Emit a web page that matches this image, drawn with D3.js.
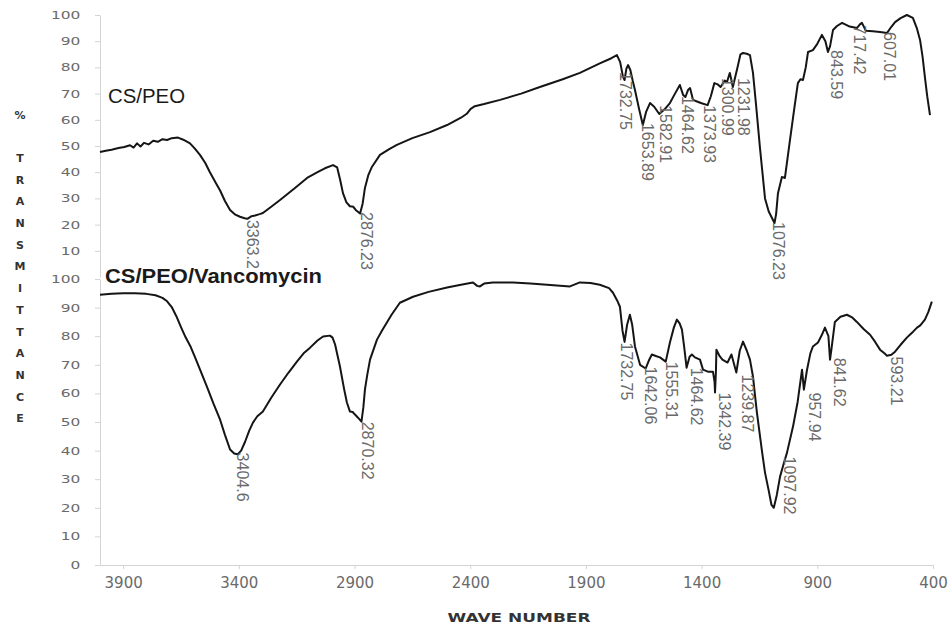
<!DOCTYPE html>
<html>
<head>
<meta charset="utf-8">
<script src="https://cdn.jsdelivr.net/npm/d3@7"></script>
<style>
  body { margin: 0; background: #fff; }
  svg { display: block; }
  .eje path, .eje line { stroke: #d4d4d4; }
  .eje text { fill: #6a6a6a; font-family: "DejaVu Sans", sans-serif; }
  .pico { fill: #6a6a6a; font-family: "Liberation Sans Narrow", "Arial Narrow", sans-serif; font-size: 16px; }
</style>
</head>
<body>
<svg id="graph"></svg>
<script>
// eje X (numero de onda) y ejes Y de cada espectro
var ticksX = [3900, 3400, 2900, 2400, 1900, 1400, 900, 400];
var ticksArriba = [10, 20, 30, 40, 50, 60, 70, 80, 90, 100];
var ticksAbajo = [0, 10, 20, 30, 40, 50, 60, 70, 80, 90, 100];

var nombres = ["CS/PEO", "CS/PEO/Vancomycin"];
var tituloY = ["%", "", "T", "R", "A", "N", "S", "M", "I", "T", "T", "A", "N", "C", "E"];

var csPeo = [
  [4000,47.7],[3975,48.2],[3950,48.6],[3920,49.2],[3895,49.6],[3870,50.3],[3855,49.4],[3840,51],[3825,49.8],
  [3810,51.2],[3790,50.6],[3770,52],[3750,51.6],[3730,52.6],[3710,52.3],[3690,53],[3663,53.2],[3640,52.4],
  [3611,51],[3590,49],[3568,46.6],[3545,43.5],[3525,40],[3500,36],[3481,33],[3460,29],[3438,25.6],[3415,23.8],
  [3395,23],[3375,22.4],[3363,22.2],[3345,23.2],[3330,23.5],[3310,24],[3296,24.4],[3260,26.8],[3222,29.4],
  [3160,33.8],[3105,37.8],[3060,40],[3028,41.5],[2993,42.7],[2975,41.8],[2962,37],[2950,32],[2935,28.5],
  [2920,27],[2905,26.8],[2895,25.6],[2876,24.2],[2865,28],[2855,34],[2840,39],[2825,42],[2790,46.6],
  [2750,48.8],[2717,50.4],[2650,53],[2574,55.3],[2500,58],[2440,60.8],[2415,62.3],[2398,64.2],[2380,65.2],
  [2340,66],[2271,67.6],[2180,70],[2099,72.5],[2000,75.5],[1926,77.9],[1840,81.5],[1790,83.5],[1766,84.7],
  [1752,82],[1740,76.5],[1733,75.2],[1725,79.5],[1718,80.9],[1708,79],[1698,75],[1688,71.4],[1670,64],
  [1654,58],[1640,63],[1623,66.4],[1605,65],[1583,62.2],[1560,64],[1537,66.4],[1515,70],[1494,73.3],
  [1480,69.5],[1470,68.7],[1458,71.5],[1450,72.1],[1437,67.6],[1420,67],[1400,66.3],[1374,65.6],[1360,69],
  [1345,74],[1330,73.5],[1318,72.5],[1300,75],[1290,74.5],[1278,77.9],[1265,72.5],[1245,80],[1232,85],
  [1221,85.5],[1205,85.2],[1191,84.7],[1178,77.9],[1165,66],[1148,49.5],[1126,30],[1110,25],[1085,20.6],
  [1078,24],[1070,32],[1053,38.2],[1040,37.8],[1018,52.3],[1000,64],[984,74],[973,75.5],[962,75.2],
  [950,80],[940,85.9],[919,86.6],[900,89],[880,92.4],[865,90],[854,85.9],[845,88],[832,94.3],[815,95.8],
  [793,97],[760,95.6],[729,95],[715,96.5],[707,97],[690,94],[660,93.8],[629,93.5],[599,93.1],[580,95.5],
  [564,97.3],[540,98.8],[513,100],[487,98.9],[470,95],[456,90.5],[445,84],[435,76.3],[425,69],[413,61.8]
];

var csPeoVanco = [
  [4000,94.5],[3950,94.8],[3900,95],[3850,95],[3800,94.8],[3760,94.3],[3730,93.4],[3710,92.2],[3690,90.2],
  [3670,87],[3650,83.2],[3630,79.6],[3610,76.6],[3590,72.8],[3565,67.8],[3538,62.4],[3510,56.5],[3481,50.8],
  [3460,45.5],[3438,40.4],[3420,39],[3405,38.7],[3390,40],[3373,43.1],[3355,47],[3339,49.8],[3320,52],
  [3296,53.7],[3260,58.5],[3222,63.1],[3185,67.3],[3149,71.1],[3120,74],[3092,76],[3060,78.5],[3036,79.9],
  [3006,80.2],[2995,79.5],[2984,77.1],[2963,69.4],[2945,61.5],[2933,56.8],[2920,53.7],[2908,53.5],[2898,52.6],
  [2885,51.5],[2870,50.1],[2862,55],[2855,61.3],[2845,66.5],[2833,71.8],[2803,78.8],[2781,82],[2740,87.5],
  [2704,91.7],[2647,93.8],[2580,95.5],[2500,97],[2440,98],[2388,98.8],[2370,97.6],[2358,97.4],[2340,98.4],
  [2302,98.8],[2215,98.8],[2140,98.4],[2068,98],[1969,97.4],[1926,98.8],[1880,98.6],[1840,98],[1800,96.8],
  [1783,95.2],[1765,92.5],[1753,90.3],[1742,82],[1733,78],[1722,84],[1710,87.5],[1700,84],[1688,76.4],
  [1666,70],[1642,68.7],[1628,71.5],[1615,73.6],[1595,73],[1580,72.6],[1555,71.1],[1537,77.8],[1520,83],
  [1507,85.8],[1495,84.5],[1485,82.3],[1475,76],[1465,69],[1452,72.8],[1442,73.6],[1429,72.6],[1407,71.8],
  [1394,68.3],[1373,67.6],[1351,67.6],[1344,64],[1342,60.3],[1338,68],[1336,75.3],[1322,73],[1310,71.8],
  [1288,70.8],[1271,73.6],[1250,67.3],[1235,75],[1221,78.1],[1205,75],[1191,71.8],[1178,65.9],[1161,53.3],
  [1139,39.7],[1126,32.3],[1110,26],[1098,21],[1088,20],[1075,24.5],[1061,30.9],[1045,35.5],[1031,39.3],
  [1005,48.4],[985,57],[966,68.3],[958,61.3],[945,68],[930,74],[919,76.4],[897,77.8],[880,80.5],[867,83],
  [852,80],[845,71.8],[838,76],[824,85],[800,86.8],[772,87.5],[750,86.6],[729,85],[700,82.5],[672,80.5],
  [650,78],[629,75.3],[610,74],[599,73.2],[580,73.5],[564,74.6],[540,77],[513,79.5],[500,80.5],[487,81.5],
  [469,83],[455,83.8],[435,85.8],[420,88.5],[405,92.1]
];

// etiquetas de picos: [numero de onda, % transmitancia donde empieza, texto]
var picosCsPeo = [
  [3339,21.8,"3363.2"],[2850,24.8,"2876.23"],[1727,78.2,"1732.75"],[1636,58.8,"1653.89"],
  [1554,65.6,"1582.91"],[1463,69.1,"1464.62"],[1368,65.6,"1373.93"],[1290,76,"1300.99"],
  [1217,76,"1231.98"],[1066,21,"1076.23"],[815,86.6,"843.59"],[716,96,"717.42"],[586,93.5,"607.01"]
];
var picosCsPeoVanco = [
  [3386,39.3,"3404.6"],[2846,50.1,"2870.32"],[1723,77.8,"1732.75"],[1623,69.4,"1642.06"],
  [1528,71.1,"1555.31"],[1424,69,"1464.62"],[1299,60.3,"1342.39"],[1200,66.6,"1239.87"],
  [1019,37.9,"1097.92"],[910,60.3,"957.94"],[802,72.5,"841.62"],[556,72.9,"593.21"]
];

function renderGraph() {
  var config = { width: 951, height: 630, left: 100, right: 933, top: 15, mid: 277, mid2: 279, bottom: 565 };
  var svg = d3.select("#graph").attr("width", config.width).attr("height", config.height);

  var x = d3.scaleLinear().domain([4000, 400]).range([config.left, config.right]);
  var yArriba = d3.scaleLinear().domain([0, 100]).range([config.mid, config.top]);
  var yAbajo = d3.scaleLinear().domain([0, 100]).range([config.bottom, config.mid2]);

  var ejeX = svg.append("g")
    .attr("class", "eje")
    .attr("transform", "translate(0," + config.bottom + ")")
    .call(d3.axisBottom(x).tickValues(ticksX).tickSize(4).tickSizeOuter(0).tickPadding(8).tickFormat(d3.format("d")));
  ejeX.selectAll("text").style("font-size", "15px");

  [[yArriba, ticksArriba], [yAbajo, ticksAbajo]].forEach(function(e) {
    var g = svg.append("g")
      .attr("class", "eje")
      .attr("transform", "translate(" + config.left + ",0)")
      .call(d3.axisLeft(e[0]).tickValues(e[1]).tickSize(5).tickSizeOuter(0).tickPadding(9));
    g.selectAll("text").style("font-size", "11px").attr("transform", "scale(1.4,1)");
  });

  var linea = function(y) {
    return d3.line().x(function(d) { return x(d[0]); }).y(function(d) { return y(d[1]); });
  };
  [[csPeo, yArriba], [csPeoVanco, yAbajo]].forEach(function(s) {
    svg.append("path")
      .datum(s[0])
      .attr("d", linea(s[1]))
      .attr("fill", "none")
      .attr("stroke", "#151515")
      .attr("stroke-width", 2)
      .attr("stroke-linejoin", "round");
  });

  [[picosCsPeo, yArriba], [picosCsPeoVanco, yAbajo]].forEach(function(p) {
    svg.append("g").selectAll("text")
      .data(p[0])
      .enter().append("text")
      .attr("class", "pico")
      .attr("transform", function(d) { return "translate(" + x(d[0]) + "," + p[1](d[1]) + ") rotate(90)"; })
      .attr("dominant-baseline", "central")
      .text(function(d) { return d[2]; });
  });

  // nombres de las muestras
  svg.append("text").attr("x", 108).attr("y", 103)
    .attr("textLength", 77).attr("lengthAdjust", "spacingAndGlyphs")
    .style("font-family", "'Liberation Sans', Arial, sans-serif").style("font-size", "20px").style("fill", "#1a1a1a")
    .text(nombres[0]);
  svg.append("text").attr("x", 105).attr("y", 283)
    .attr("textLength", 217).attr("lengthAdjust", "spacingAndGlyphs")
    .style("font-family", "'Liberation Sans', Arial, sans-serif").style("font-size", "20px").style("font-weight", "bold").style("fill", "#1a1a1a")
    .text(nombres[1]);

  // titulos de los ejes
  svg.append("g").selectAll("text")
    .data(tituloY)
    .enter().append("text")
    .attr("x", 20)
    .attr("y", function(d, i) { return 115 + i * 21.7; })
    .attr("text-anchor", "middle")
    .attr("dominant-baseline", "central")
    .style("font-family", "'DejaVu Sans', sans-serif").style("font-size", "11px").style("font-weight", "bold").style("fill", "#333")
    .text(function(d) { return d; });

  svg.append("text")
    .attr("x", 519).attr("y", 622)
    .attr("text-anchor", "middle")
    .attr("textLength", 143).attr("lengthAdjust", "spacingAndGlyphs")
    .style("font-family", "'DejaVu Sans', sans-serif").style("font-size", "13px").style("font-weight", "bold").style("fill", "#333")
    .text("WAVE NUMBER");
}

renderGraph();
</script>
</body>
</html>
